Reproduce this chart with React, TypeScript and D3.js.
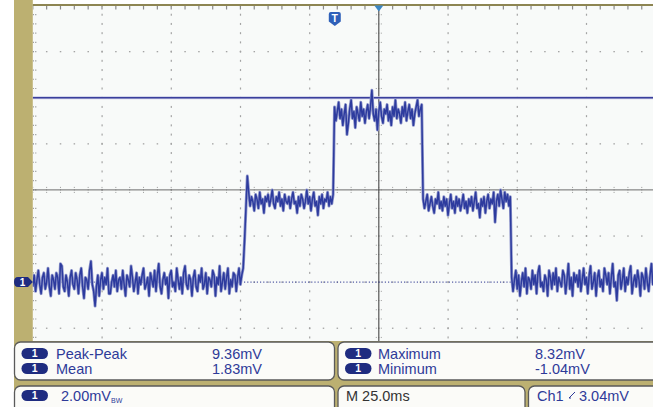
import React from "react";
import * as d3 from "d3";

// ---- data (mV), sampled every 0.5 ms starting at -125 ms ----
const sampleStartMs = -125;
const sampleStepMs = 0.5;

const baselineA = [
  -0.2, 0.3, -0.4, 0.1, 0.5, -0.1, -0.5, 0.2, 0.4, -0.3, 0.0, 0.6, -0.2, -0.6, 0.3, 0.1,
  -0.3, 0.4, 0.2, -0.5, 0.8, 0.7, -0.2, -0.4, 0.3, 0.0, -0.6, 0.2, 0.5, -0.1, -0.3, 0.4,
  0.1, -0.5, 0.3, 0.6, -0.2, -0.7, 0.2, 0.1, -0.3, 0.5, 0.9, -0.1, -0.4, -1.04, -0.2, 0.3,
  -0.6, 0.1, 0.4, -0.3, 0.2, -0.1, 0.6, -0.5, -0.5, 0.0, 0.3, -0.2, 0.5, -0.4, 0.1, 0.2,
  -0.3, 0.5, -0.1, -0.6, 0.3, 0.1, -0.2, 0.7, 0.2, -0.4, 0.0, 0.4, -0.5, 0.2, -0.1, 0.3,
  0.6, -0.3, -0.1, 0.2, -0.6, 0.4, 0.1, -0.2, 0.5, -0.4, 0.3, 0.8, -0.2, -0.5, 0.1, 0.4,
  -0.1, 0.2, -0.7, 0.3, 0.5, -0.2, 0.0, -0.4, 0.6, 0.1, -0.3, 0.2, -0.5, 0.4, 0.7, -0.1,
  -0.3, 0.3, 0.1, -0.6, 0.2, 0.5, -0.2, -0.4, 0.3, 0.0, 0.6, -0.3, -0.1, 0.4, -0.5, 0.2,
  0.1, -0.2, 0.5, 0.3, -0.6, 0.2, -0.1, 0.7, -0.4, 0.0, 0.4, -0.3, 0.2, 0.6, -0.5, 0.1,
  -0.2, 0.4, 0.3, -0.4, 0.2, 0.6, -0.1, 0.3,
];
const riseEdge = [0.6, 1.8, 3.2, 4.6];
const level1 = [
  3.9, 3.3, 3.7, 3.5, 3.1, 3.8, 3.6, 3.2, 3.9, 3.4, 3.6, 3.0, 3.7, 3.5, 3.8, 3.3,
  3.6, 4.0, 3.4, 3.2, 3.7, 3.5, 3.9, 3.3, 3.6, 3.1, 3.8, 3.5, 3.4, 3.7, 3.2, 3.6,
  3.9, 3.4, 3.5, 3.0, 3.7, 3.3, 3.8, 3.6, 3.2, 3.5, 4.0, 3.4, 3.7, 3.1, 3.6, 3.9,
  3.3, 3.5, 2.9, 3.7, 3.4, 3.8, 3.2, 3.6, 3.5, 3.9, 3.3, 3.7, 3.4, 3.8,
];
const level2 = [
  7.6, 7.0, 7.4, 7.8, 7.1, 7.5, 6.8, 7.3, 7.7, 6.4, 6.9, 7.5, 7.9, 7.1, 7.4, 6.7,
  7.6, 7.3, 7.0, 7.8, 7.2, 7.5, 6.9, 7.4, 7.7, 7.1, 7.6, 8.32, 7.3, 7.0, 7.5, 6.6,
  7.4, 7.8, 7.2, 6.9, 7.5, 7.3, 7.7, 7.0, 7.4, 6.8, 7.6, 7.2, 7.9, 7.1, 7.5, 7.3,
  6.9, 7.6, 7.2, 7.8, 7.0, 7.4, 7.7, 7.1, 7.5, 6.8, 7.3, 7.6, 7.9, 7.2, 7.5, 7.7,
];
const level3 = [
  3.6, 3.2, 3.5, 3.8, 3.1, 3.4, 3.7, 3.3, 3.0, 3.6, 3.4, 3.9, 3.2, 3.5, 3.1, 3.7,
  3.3, 3.6, 2.9, 3.4, 3.8, 3.2, 3.5, 3.0, 3.7, 3.3, 3.6, 3.1, 3.4, 3.8, 3.2, 3.5,
  3.0, 3.6, 3.3, 3.7, 3.1, 3.5, 3.9, 3.2, 3.4, 2.8, 3.6, 3.3, 3.7, 3.0, 3.5, 3.8,
  3.2, 3.6, 3.4, 3.9, 2.6, 3.5, 3.8, 3.3, 4.0, 3.6, 3.2, 3.9, 3.5, 3.8, 3.3, 3.7,
];
const baselineB = [
  0.2, -0.4, 0.1, 0.5, -0.3, 0.3, -0.6, 0.0, 0.4, -0.2, 0.6, -0.5, 0.2, 0.1, -0.3, 0.5,
  -0.1, 0.3, -0.5, 0.4, 0.7, -0.2, 0.0, -0.4, 0.3, 0.1, -0.6, 0.5, 0.2, -0.3, 0.4, -0.1,
  0.6, -0.4, 0.2, 0.0, -0.2, 0.5, 0.3, -0.5, 0.1, 0.8, -0.3, 0.2, -0.6, 0.4, 0.0, 0.3,
  -0.2, 0.5, -0.4, 0.1, 0.6, -0.1, 0.2, -0.5, 0.3, 0.7, -0.3, 0.0, 0.4, -0.6, 0.2, 0.5,
  -0.2, 0.1, -0.4, 0.6, 0.3, -0.1, 0.4, -0.5, 0.2, 0.8, -0.2, 0.0, -0.8, 0.3, 0.5, -0.3,
  0.1, 0.6, -0.4, 0.2, -0.1, 0.4, 0.7, -0.5, 0.0, 0.3, -0.2, 0.5, 0.1, -0.6, 0.4, 0.2,
  -0.3, 0.6, 0.0, -0.4, 0.3, 0.8, -0.1, 0.2,
];
const ch1 = [...baselineA, ...riseEdge, ...level1, ...level2, ...level3, ...baselineB];

const timeDomainMs = [-125, 125];
const voltDomainMv = [-4, 12];
const timePerDivMs = 25;
const voltPerDivMv = 2;
const cursorMv = 8;
const groundMv = 0;
const triggerTimeMs = -15.9;

const leftLabels = ["Peak-Peak", "Mean"];
const leftValues = ["9.36mV", "1.83mV"];
const rightLabels = ["Maximum", "Minimum"];
const rightValues = ["8.32mV", "-1.04mV"];
const scaleText = "2.00mV";
const bwText = "BW";
const timebaseText = "M 25.0ms";
const triggerChText = "Ch1";
const triggerLevelText = "3.04mV";

// ---- layout ----
const W = 653;
const H = 407;
const GX0 = 32.8;
const GX1 = 724.8;
const GY0 = 5.5;
const GY1 = 374.3;
const GCLIP_B = 341;
const KHAKI = "#bcb071";
const BLUE_TXT = "#2e3a98";
const BADGE = "#1f2c80";
const FONT = "'Liberation Sans', Arial, sans-serif";

const Badge = ({ x, y }: { x: number; y: number }) => (
  <g>
    <rect x={x} y={y} width={26.5} height={11} rx={5.5} fill={BADGE} />
    <text x={x + 13.25} y={y + 9.3} fill="#fff" fontSize={10.5} fontWeight="bold" textAnchor="middle" fontFamily={FONT}>1</text>
  </g>
);

export default function App() {
  const x = d3.scaleLinear().domain(timeDomainMs).range([GX0, GX1]);
  const y = d3.scaleLinear().domain(voltDomainMv).range([GY1, GY0]);

  const majorX = d3.range(timeDomainMs[0], timeDomainMs[1] + 0.01, timePerDivMs);
  const minorX = d3.range(timeDomainMs[0], timeDomainMs[1] + 0.01, timePerDivMs / 5);
  const majorY = d3.range(voltDomainMv[0], voltDomainMv[1] + 0.01, voltPerDivMv);
  const minorY = d3.range(voltDomainMv[0], voltDomainMv[1] + 0.01, voltPerDivMv / 5);
  const centerT = (timeDomainMs[0] + timeDomainMs[1]) / 2;
  const centerV = (voltDomainMv[0] + voltDomainMv[1]) / 2;

  const line = d3
    .line<number>()
    .x((_, i) => x(sampleStartMs + i * sampleStepMs))
    .y((v) => y(v));
  const tracePath = line(ch1) || "";

  const dots: React.ReactNode[] = [];
  majorX.forEach((t, i) => {
    if (i === 0 || t === centerT) return;
    minorY.forEach((v, j) => {
      dots.push(<rect key={`vx${i}-${j}`} x={x(t) - 0.5} y={y(v) - 1} width={1.2} height={2} fill="#a4a4a4" />);
    });
  });
  majorY.forEach((v, i) => {
    if (v === voltDomainMv[1] || v === centerV) return;
    minorX.forEach((t, j) => {
      dots.push(<rect key={`hy${i}-${j}`} x={x(t) - 0.7} y={y(v) - 0.6} width={1.5} height={1.3} fill="#a4a4a4" />);
    });
  });
  const centerTicks: React.ReactNode[] = [];
  minorY.forEach((v, j) => {
    centerTicks.push(<line key={`cv${j}`} x1={x(centerT) - 3} x2={x(centerT) + 3} y1={y(v)} y2={y(v)} stroke="#9a9a9a" strokeWidth={1} strokeDasharray="1 1.5" />);
  });
  minorX.forEach((t, j) => {
    centerTicks.push(<line key={`ch${j}`} x1={x(t)} x2={x(t)} y1={y(centerV) - 3} y2={y(centerV) + 3} stroke="#9a9a9a" strokeWidth={1} strokeDasharray="1 1.5" />);
  });
  const edgeTicks: React.ReactNode[] = [];
  minorX.forEach((t, j) => {
    edgeTicks.push(<line key={`et${j}`} x1={x(t)} x2={x(t)} y1={GY0} y2={GY0 + 4} stroke="#8a8a8a" strokeWidth={1.2} />);
  });
  minorY.forEach((v, j) => {
    edgeTicks.push(<line key={`el${j}`} x1={GX0} x2={GX0 + 4} y1={y(v)} y2={y(v)} stroke="#8a8a8a" strokeWidth={1.2} strokeDasharray="1 1.5" />);
  });

  const tx = x(triggerTimeMs);
  const gy = y(groundMv);

  return (
    <svg width={W} height={H} style={{ position: "absolute", left: 0, top: 0, display: "block" }} fontFamily={FONT}>
      <defs>
        <clipPath id="gridClip">
          <rect x={GX0} y={GY0} width={W - GX0} height={GCLIP_B - GY0} />
        </clipPath>
      </defs>
      <rect x={0} y={0} width={W} height={H} fill="#ffffff" />
      <rect x={14} y={0} width={GX0 - 14} height={H} fill={KHAKI} />
      <rect x={14} y={GCLIP_B} width={W - 14} height={H - GCLIP_B} fill={KHAKI} />
      <g clipPath="url(#gridClip)">
        <rect x={GX0} y={GY0} width={W - GX0} height={GCLIP_B - GY0} fill="#f8faf9" />
        {dots}
        {centerTicks}
        {edgeTicks}
        <line x1={GX0} x2={W} y1={y(centerV)} y2={y(centerV)} stroke="#6b6b6b" strokeWidth={1} />
        <line x1={x(centerT)} x2={x(centerT)} y1={GY0} y2={GCLIP_B} stroke="#555" strokeWidth={1.2} />
        <line x1={GX0} x2={W} y1={gy} y2={gy} stroke="#2c3590" strokeWidth={1} strokeDasharray="1.2 2" />
        <line x1={GX0} x2={W} y1={y(cursorMv)} y2={y(cursorMv)} stroke="#c9cbe6" strokeWidth={3} />
        <line x1={GX0} x2={W} y1={y(cursorMv)} y2={y(cursorMv)} stroke="#3a3f9c" strokeWidth={1.5} />
        <path d={tracePath} fill="none" stroke="#8f96cb" strokeWidth={3} strokeLinejoin="round" />
        <path d={tracePath} fill="none" stroke="#2d3b9e" strokeWidth={1.5} strokeLinejoin="round" />
      </g>
      <line x1={GX0} x2={W} y1={GY0 - 0.5} y2={GY0 - 0.5} stroke="#8d8552" strokeWidth={2} />
      {/* top center marker */}
      <path d={`M${x(centerT) - 4.5},${GY0} L${x(centerT) + 4.5},${GY0} L${x(centerT)},${GY0 + 6} Z`} fill="#3b86c4" />
      {/* trigger T marker */}
      <path
        d={`M${tx - 6},14 Q${tx - 6},12 ${tx - 4},12 L${tx + 4},12 Q${tx + 6},12 ${tx + 6},14 L${tx + 6},21.5 L${tx},26 L${tx - 6},21.5 Z`}
        fill="#2f60b9"
      />
      <text x={tx} y={22} fill="#fff" fontSize={10.5} fontWeight="bold" textAnchor="middle">T</text>
      {/* ground marker */}
      <path d={`M18,${gy - 5} L28,${gy - 5} L${GX0},${gy} L28,${gy + 5} L18,${gy + 5} Q14,${gy + 5} 14,${gy} Q14,${gy - 5} 18,${gy - 5} Z`} fill={BADGE} />
      <text x={22.5} y={gy + 3.8} fill="#fff" fontSize={10} fontWeight="bold" textAnchor="middle">1</text>

      {/* measurement panels */}
      <rect x={14.5} y={342} width={320} height={38} rx={6} fill="#fbfbf8" stroke="#5a5a5a" strokeWidth={1.3} />
      <rect x={338} y={342} width={330} height={38} rx={6} fill="#fbfbf8" stroke="#5a5a5a" strokeWidth={1.3} />
      <rect x={14.5} y={386} width={320} height={30} rx={6} fill="#fbfbf8" stroke="#5a5a5a" strokeWidth={1.3} />
      <rect x={338} y={386} width={187} height={30} rx={6} fill="#fbfbf8" stroke="#5a5a5a" strokeWidth={1.3} />
      <rect x={528.5} y={386} width={140} height={30} rx={6} fill="#fbfbf8" stroke="#5a5a5a" strokeWidth={1.3} />

      {leftLabels.map((lab, i) => (
        <g key={lab}>
          <Badge x={21.5} y={348 + i * 15} />
          <text x={56} y={359 + i * 15} fill={BLUE_TXT} fontSize={14.5}>{lab}</text>
          <text x={212} y={359 + i * 15} fill={BLUE_TXT} fontSize={14.5}>{leftValues[i]}</text>
        </g>
      ))}
      {rightLabels.map((lab, i) => (
        <g key={lab}>
          <Badge x={345} y={348 + i * 15} />
          <text x={378} y={359 + i * 15} fill={BLUE_TXT} fontSize={14.5}>{lab}</text>
          <text x={535} y={359 + i * 15} fill={BLUE_TXT} fontSize={14.5}>{rightValues[i]}</text>
        </g>
      ))}
      <Badge x={21.5} y={390} />
      <text x={61} y={401} fill={BLUE_TXT} fontSize={14.5}>
        {scaleText}
        <tspan fontSize={7} dy={1.5}>{bwText}</tspan>
      </text>
      <text x={346} y={401} fill="#333" fontSize={14.5}>{timebaseText}</text>
      <text x={537} y={401} fill={BLUE_TXT} fontSize={14.5}>{triggerChText}</text>
      <line x1={569} x2={575} y1={398} y2={392} stroke={BLUE_TXT} strokeWidth={1} />
      <line x1={569} x2={571} y1={398} y2={398} stroke={BLUE_TXT} strokeWidth={1} />
      <text x={579} y={401} fill={BLUE_TXT} fontSize={14.5}>{triggerLevelText}</text>
    </svg>
  );
}
